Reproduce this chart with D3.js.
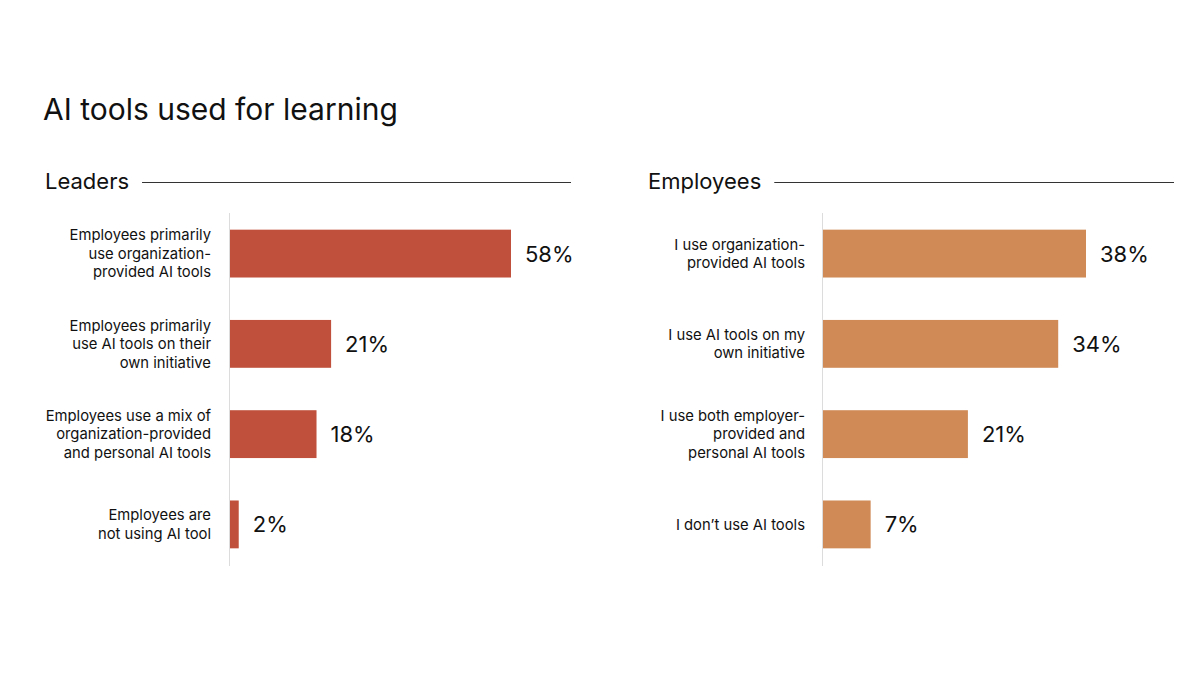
<!DOCTYPE html>
<html>
<head>
<meta charset="utf-8">
<script src="https://cdn.jsdelivr.net/npm/d3@7"></script>
<style>
  body { margin: 0; background: #fff; }
  text { font-family: Inter, "Noto Sans", sans-serif; fill: #111; }
</style>
</head>
<body>
<div id="chart"></div>
<script>
// data
var leaderLabels = [
  ["Employees primarily", "use organization-", "provided AI tools"],
  ["Employees primarily", "use AI tools on their", "own initiative"],
  ["Employees use a mix of", "organization-provided", "and personal AI tools"],
  ["Employees are", "not using AI tool"]
];
var leaderValues = [58, 21, 18, 2];

var employeeLabels = [
  ["I use organization-", "provided AI tools"],
  ["I use AI tools on my", "own initiative"],
  ["I use both employer-", "provided and", "personal AI tools"],
  ["I don\u2019t use AI tools"]
];
var employeeValues = [38, 34, 21, 7];

var W = 1200, H = 675;

var svg = d3.select("#chart")
  .append("svg")
  .attr("width", W)
  .attr("height", H);

// 标题
svg.append("text")
  .attr("x", 43)
  .attr("y", 120)
  .style("font-size", "30px")
  .text("AI tools used for learning");

function drawPanel(opts) {
  var g = svg.append("g");

  // 面板标题 + 横线
  var head = g.append("text")
    .attr("x", opts.left)
    .attr("y", 189)
    .style("font-size", "22px")
    .text(opts.title);
  var headW = head.node().getComputedTextLength();
  g.append("line")
    .attr("x1", opts.left + headW + 13)
    .attr("x2", opts.right)
    .attr("y1", 182.5)
    .attr("y2", 182.5)
    .attr("stroke", "#333")
    .attr("stroke-width", 1);

  var data = opts.values.map(function (v, i) { return { i: i, value: v, label: opts.labels[i] }; });

  var yScale = d3.scaleBand()
    .domain(data.map(function (d) { return d.i; }))
    .range([208, 570])
    .paddingInner(0.47)
    .paddingOuter(0.24);

  var xScale = d3.scaleLinear()
    .domain([0, opts.maxVal])
    .range([opts.axisX, opts.axisX + opts.maxLen]);

  // 轴线
  g.append("line")
    .attr("x1", opts.axisX + 0.5)
    .attr("x2", opts.axisX + 0.5)
    .attr("y1", 213)
    .attr("y2", 566)
    .attr("stroke", "#dcdcdc")
    .attr("stroke-width", 1);

  g.selectAll(".bar")
    .data(data)
    .enter()
    .append("rect")
    .attr("class", "bar")
    .attr("x", xScale(0) + 1)
    .attr("y", function (d) { return yScale(d.i); })
    .attr("width", function (d) { return xScale(d.value) - xScale(0) - 1; })
    .attr("height", yScale.bandwidth())
    .attr("fill", opts.color);

  // 数值标签
  g.selectAll(".val")
    .data(data)
    .enter()
    .append("text")
    .attr("class", "val")
    .attr("x", function (d) { return xScale(d.value) + 14; })
    .attr("y", function (d) { return yScale(d.i) + yScale.bandwidth() / 2; })
    .attr("dy", "0.36em")
    .style("font-size", "22px")
    .text(function (d) { return d.value + "%"; });

  // 类别标签
  var lineH = 18.5;
  var cats = g.selectAll(".cat")
    .data(data)
    .enter()
    .append("text")
    .attr("class", "cat")
    .attr("text-anchor", "end")
    .style("font-size", "14.8px");
  cats.each(function (d) {
    var t = d3.select(this);
    var cy = yScale(d.i) + yScale.bandwidth() / 2;
    var n = d.label.length;
    d.label.forEach(function (s, k) {
      t.append("tspan")
        .attr("x", opts.axisX - opts.labelGap)
        .attr("y", cy + (k - (n - 1) / 2) * lineH)
        .attr("dy", "0.35em")
        .text(s);
    });
  });
}

drawPanel({
  title: "Leaders",
  left: 45,
  right: 571,
  axisX: 229,
  labelGap: 18,
  labels: leaderLabels,
  values: leaderValues,
  maxVal: 58,
  maxLen: 282,
  color: "#c0503b"
});

drawPanel({
  title: "Employees",
  left: 648,
  right: 1174,
  axisX: 822,
  labelGap: 17,
  labels: employeeLabels,
  values: employeeValues,
  maxVal: 38,
  maxLen: 264,
  color: "#cf8a55"
});
</script>
</body>
</html>
